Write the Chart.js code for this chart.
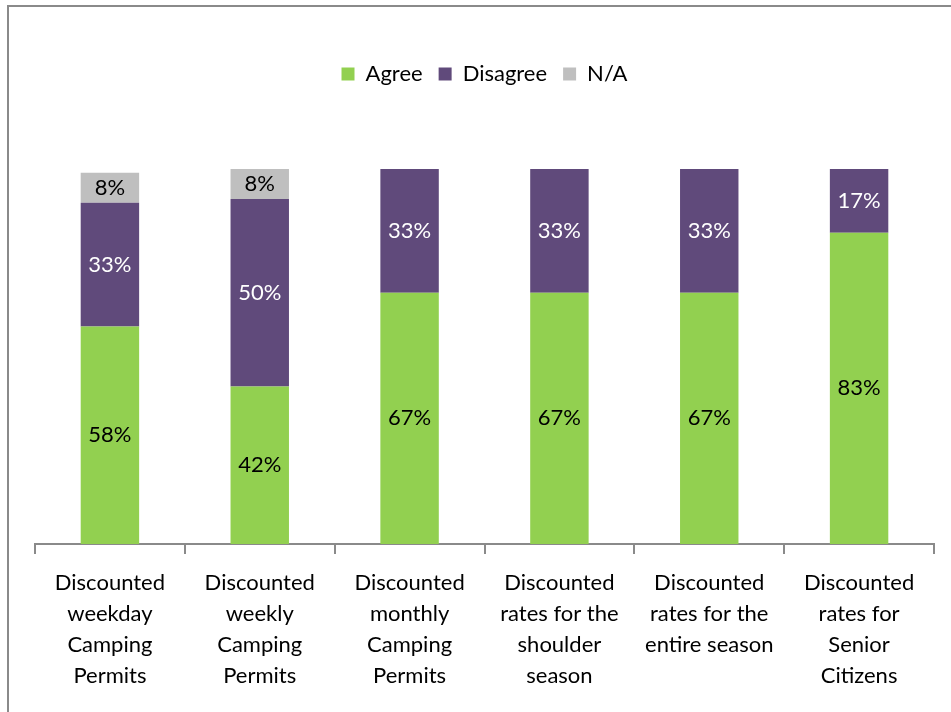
<!DOCTYPE html>
<html>
<head>
<meta charset="utf-8">
<script src="https://cdn.jsdelivr.net/npm/chart.js@4"></script>
<style>
  html, body { margin: 0; padding: 0; background: #fff; }
  #wrap { width: 951px; height: 712px; }
</style>
</head>
<body>
<div id="wrap"><canvas id="myChart" width="951" height="712"></canvas></div>
<script>
const categories = [
    ["Discounted", "weekday", "Camping", "Permits"],
    ["Discounted", "weekly", "Camping", "Permits"],
    ["Discounted", "monthly", "Camping", "Permits"],
    ["Discounted", "rates for the", "shoulder", "season"],
    ["Discounted", "rates for the", "entire season"],
    ["Discounted", "rates for", "Senior", "Citizens"]
];
const agree = [58, 42, 67, 67, 67, 83];
const disagree = [33, 50, 33, 33, 33, 17];
const notApplicable = [8, 8, 0, 0, 0, 0];

const FONT = "Lato, 'Open Sans', sans-serif";

// writes the percentage in the middle of each segment
const segmentLabels = {
    id: "segmentLabels",
    afterDatasetsDraw(chart) {
        const ctx = chart.ctx;
        ctx.save();
        ctx.font = "22px " + FONT;
        ctx.textAlign = "center";
        ctx.textBaseline = "middle";
        chart.data.datasets.forEach(function (ds, i) {
            chart.getDatasetMeta(i).data.forEach(function (bar, j) {
                const v = ds.data[j];
                if (!v) return;
                ctx.fillStyle = ds.labelColor;
                ctx.fillText(v + "%", bar.x, (bar.y + bar.base) / 2);
            });
        });
        ctx.restore();
    }
};

// outer frame line on the left and top
const frame = {
    id: "frame",
    beforeDraw(chart) {
        const ctx = chart.ctx;
        ctx.save();
        ctx.strokeStyle = "#8a8a8a";
        ctx.lineWidth = 2;
        ctx.beginPath();
        ctx.moveTo(8, 712);
        ctx.lineTo(8, 6);
        ctx.lineTo(951, 6);
        ctx.stroke();
        ctx.restore();
    }
};

// extra room under the legend
const legendGap = {
    id: "legendGap",
    beforeInit(chart) {
        const fit = chart.legend.fit;
        chart.legend.fit = function () {
            fit.call(this);
            this.height += 74;
        };
    }
};

new Chart(document.getElementById("myChart"), {
    type: "bar",
    data: {
        labels: categories,
        datasets: [
            { label: "Agree", data: agree, backgroundColor: "#92D050", labelColor: "#000" },
            { label: "Disagree", data: disagree, backgroundColor: "#604A7B", labelColor: "#fff" },
            { label: "N/A", data: notApplicable, backgroundColor: "#BFBFBF", labelColor: "#000" }
        ]
    },
    options: {
        responsive: false,
        animation: false,
        events: [],
        layout: { padding: { left: 35, right: 17, top: 47, bottom: 8 } },
        datasets: {
            bar: { categoryPercentage: 1, barPercentage: 0.39 }
        },
        scales: {
            x: {
                stacked: true,
                grid: { drawOnChartArea: false, tickLength: 10, color: "#8a8a8a", lineWidth: 2 },
                border: { color: "#8a8a8a", width: 2 },
                ticks: {
                    color: "#000",
                    font: { family: FONT, size: 22, lineHeight: 1.41 },
                    padding: 13,
                    maxRotation: 0
                }
            },
            y: {
                stacked: true,
                display: false,
                min: 0,
                max: 100
            }
        },
        plugins: {
            legend: {
                position: "top",
                labels: {
                    color: "#000",
                    font: { family: FONT, size: 22 },
                    boxWidth: 13,
                    boxHeight: 13,
                    padding: 16
                }
            },
            tooltip: { enabled: false }
        }
    },
    plugins: [segmentLabels, frame, legendGap]
});
</script>
</body>
</html>
